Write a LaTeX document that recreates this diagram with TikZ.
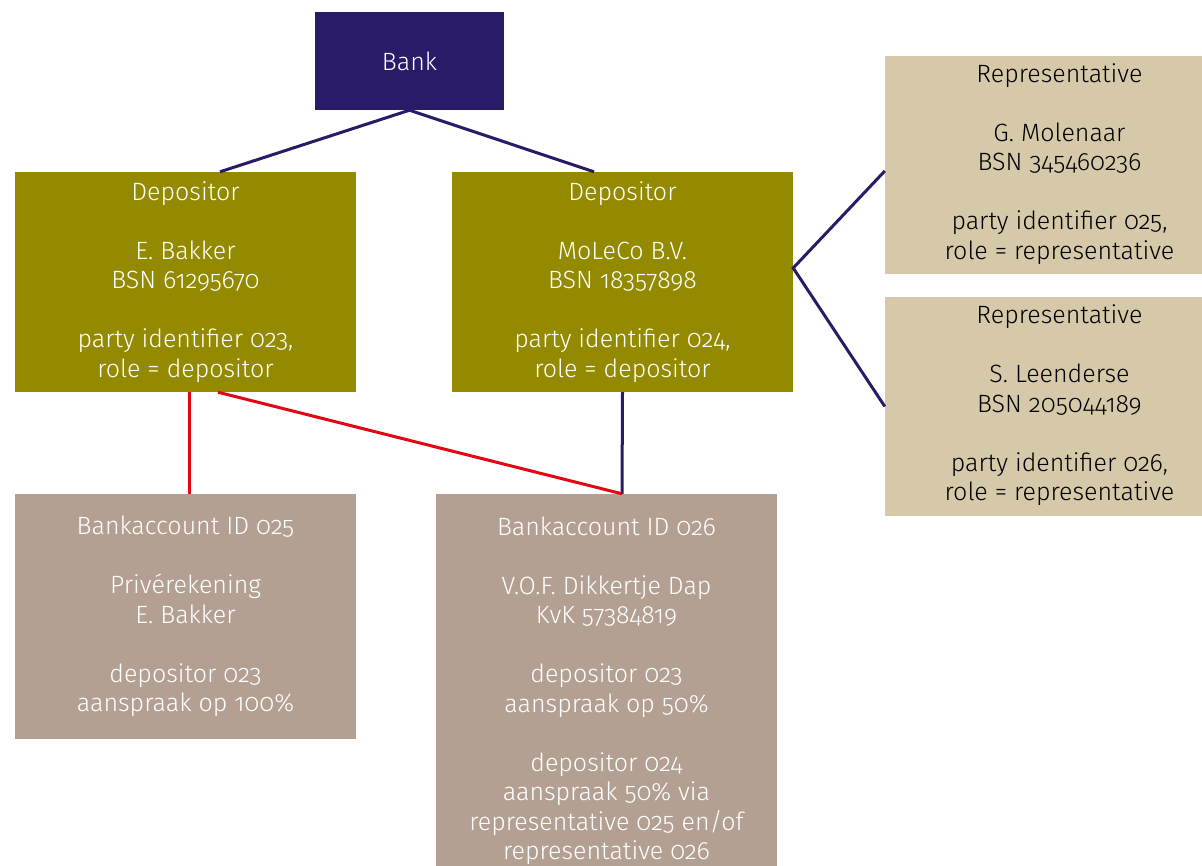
\documentclass[tikz,border=0pt]{standalone}
\usepackage{fontspec}
\setmainfont{Fira Sans}[UprightFont={* Light},Numbers=OldStyle]
\usetikzlibrary{positioning,calc}
\definecolor{banknavy}{HTML}{2A1B69}
\definecolor{deposolive}{HTML}{948A00}
\definecolor{repbeige}{HTML}{D5C9A9}
\definecolor{acctaupe}{HTML}{B4A092}
\definecolor{linkred}{HTML}{E30613}
% text block pushed right inside the representative boxes
\newcommand{\reptext}[1]{\hspace*{32pt}\begin{tabular}{@{}c@{}}#1\end{tabular}}

\begin{document}
\begin{tikzpicture}[x=1pt,y=-1pt,
  box/.style={rectangle,inner sep=0pt,align=center,text=white,
    font=\fontsize{25}{29.5}\selectfont},
  bankbox/.style={box,fill=banknavy,minimum width=189pt,minimum height=98pt},
  deposbox/.style={box,fill=deposolive,minimum width=341pt,minimum height=220pt},
  repbox/.style={box,fill=repbeige,text=black,minimum width=317pt,minimum height=218pt},
  acctbox/.style={box,fill=acctaupe,minimum width=341pt},
  navyline/.style={draw=banknavy,line width=3pt},
  redline/.style={draw=linkred,line width=3pt}]
				\useasboundingbox (0,0) rectangle (1202,866);

				%Nodes
				\node[bankbox]   (bank)  at (409.5,61) {Bank};
				\node[deposbox]  (dep1)  at (185.5,282) {Depositor\\[29.5pt]E. Bakker\\BSN 61295670\\[29.5pt]party identifier 023,\\role = depositor};
				\node[deposbox]  (dep2)  at (622.5,282) {Depositor\\[29.5pt]MoLeCo B.V.\\BSN 18357898\\[29.5pt]party identifier 024,\\role = depositor};
				\node[repbox]    (rep1)  at (1043.5,165) {\reptext{Representative\\[29.5pt]G. Molenaar\\BSN 345460236\\[29.5pt]party identifier 025,\\role = representative}};
				\node[repbox]    (rep2)  at (1043.5,406.5) {\reptext{Representative\\[29.5pt]S. Leenderse\\BSN 205044189\\[29.5pt]party identifier 026,\\role = representative}};
				\node[acctbox,minimum height=245pt] (acc1) at (185.5,616.5) {Bankaccount ID 025\\[29.5pt]Privérekening\\E. Bakker\\[29.5pt]depositor 023\\aanspraak op 100\%};
				\node[acctbox,minimum height=372pt] (acc2) at (606.5,680) {\rule{0pt}{40pt}Bankaccount ID 026\\[29.5pt]V.O.F. Dikkertje Dap\\KvK 57384819\\[29.5pt]depositor 023\\aanspraak op 50\%\\[29.5pt]depositor 024\\aanspraak 50\% via\\representative 025 en/of\\representative 026};

				\coordinate (b1) at ($(dep1.north)+(34.5,0)$);
				\coordinate (b2) at ($(dep2.north)+(-28.5,0)$);
				\coordinate (d2r) at ($(dep2.east)+(0,-14)$);
				\coordinate (r1) at ($(rep1.west)+(0,6)$);
				\coordinate (d1a) at ($(dep1.south)+(3.5,0)$);
				\coordinate (a1) at ($(acc1.north)+(3.5,0)$);
				\coordinate (d1b) at ($(dep1.south)+(32.5,0)$);
				\coordinate (a2) at ($(acc2.north)+(15.5,0)$);

				%Lines
				\draw[navyline] (bank.south) -- (b1);
				\draw[navyline] (bank.south) -- (b2);
				\draw[navyline] (r1) -- (d2r) -- (rep2.west);
				\draw[navyline] (dep2.south) -- (a2);
				\draw[redline] (d1a) -- (a1);
				\draw[redline] (d1b) -- (a2);
		\end{tikzpicture}
\end{document}
